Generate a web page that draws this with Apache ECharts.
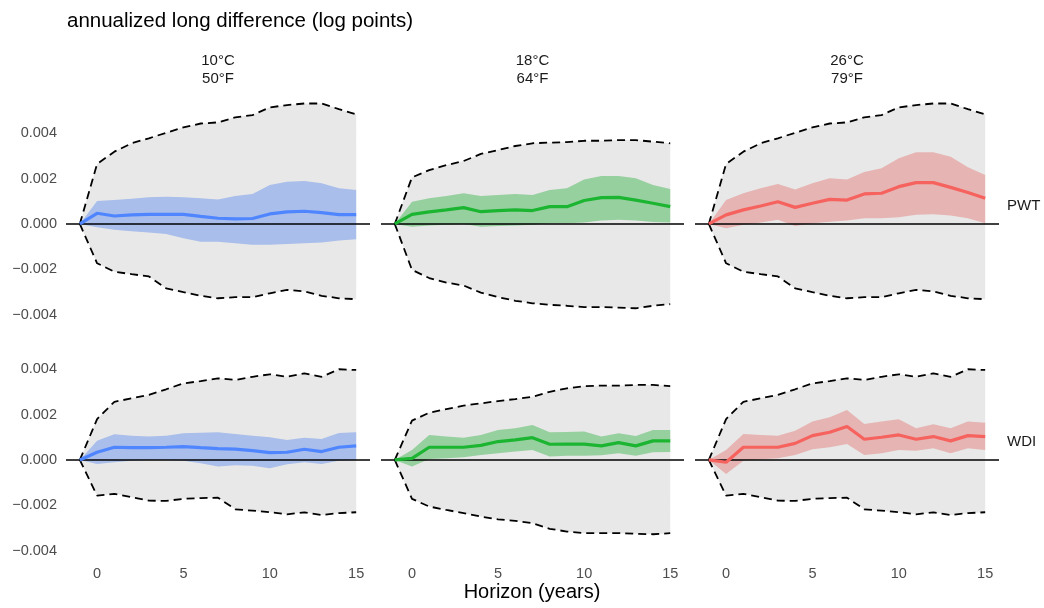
<!DOCTYPE html>
<html><head><meta charset="utf-8">
<script src="https://cdn.jsdelivr.net/npm/echarts@6/dist/echarts.min.js"></script>
<style>html,body{margin:0;padding:0;background:#fff}#c{width:1044px;height:608px}</style>
</head><body><div id="c"></div>
<script>
// ---------- data ----------
const horizons = [-1,0,1,2,3,4,5,6,7,8,9,10,11,12,13,14,15];
const xTicks = [0,5,10,15];
const yTicks = [-0.004,-0.002,0,0.002,0.004];
const tempLabels = ['10°C\n50°F','18°C\n64°F','26°C\n79°F'];
const sourceLabels = ['PWT','WDI'];
const titleText = 'annualized long difference (log points)';
const xTitle = 'Horizon (years)';

// PWT, 10°C
const pwt10_envHi = [0,0.00264,0.00318,0.00355,0.00377,0.00401,0.00425,0.00442,0.00447,0.00469,0.00479,0.00513,0.00523,0.00530,0.00530,0.00505,0.00482];
const pwt10_envLo = [0,-0.00173,-0.00210,-0.00221,-0.00231,-0.00283,-0.00300,-0.00316,-0.00327,-0.00322,-0.00322,-0.00305,-0.00290,-0.00297,-0.00316,-0.00327,-0.00331];
const pwt10_est   = [0,0.00047,0.00035,0.00040,0.00042,0.00042,0.00042,0.00033,0.00025,0.00022,0.00024,0.00044,0.00053,0.00056,0.00050,0.00041,0.00041];
const pwt10_hi    = [0,0.00101,0.00105,0.00111,0.00117,0.00120,0.00117,0.00113,0.00108,0.00123,0.00132,0.00171,0.00186,0.00189,0.00179,0.00157,0.00149];
const pwt10_lo    = [0,-0.00015,-0.00026,-0.00032,-0.00038,-0.00044,-0.00063,-0.00078,-0.00078,-0.00085,-0.00092,-0.00092,-0.00088,-0.00085,-0.00082,-0.00073,-0.00067];
// PWT, 18°C
const pwt18_envHi = [0,0.00205,0.00237,0.00259,0.00277,0.00308,0.00325,0.00343,0.00355,0.00358,0.00360,0.00366,0.00366,0.00369,0.00369,0.00362,0.00355];
const pwt18_envLo = [0,-0.00202,-0.00238,-0.00258,-0.00271,-0.00302,-0.00322,-0.00338,-0.00349,-0.00356,-0.00360,-0.00366,-0.00366,-0.00368,-0.00371,-0.00360,-0.00353];
const pwt18_est   = [0,0.00042,0.00053,0.00062,0.00072,0.00054,0.00059,0.00062,0.00059,0.00076,0.00076,0.00103,0.00116,0.00117,0.00105,0.00091,0.00076];
const pwt18_hi    = [0,0.00098,0.00113,0.00123,0.00135,0.00123,0.00127,0.00132,0.00127,0.00149,0.00157,0.00196,0.00211,0.00211,0.00201,0.00171,0.00154];
const pwt18_lo    = [0,-0.00012,-0.00007,-0.00004,0.00000,-0.00012,-0.00009,-0.00007,-0.00004,0.00003,0.00003,0.00006,0.00015,0.00018,0.00015,0.00009,0.00006];
// PWT, 26°C
const pwt26_envHi = [0,0.00264,0.00318,0.00355,0.00377,0.00401,0.00425,0.00442,0.00447,0.00469,0.00479,0.00513,0.00523,0.00530,0.00530,0.00505,0.00482];
const pwt26_envLo = [0,-0.00173,-0.00210,-0.00221,-0.00231,-0.00283,-0.00300,-0.00316,-0.00327,-0.00322,-0.00322,-0.00305,-0.00290,-0.00297,-0.00316,-0.00327,-0.00331];
const pwt26_est   = [0,0.00040,0.00062,0.00079,0.00098,0.00073,0.00091,0.00108,0.00105,0.00132,0.00135,0.00164,0.00182,0.00182,0.00161,0.00138,0.00113];
const pwt26_hi    = [0,0.00105,0.00135,0.00157,0.00176,0.00152,0.00179,0.00201,0.00196,0.00229,0.00245,0.00289,0.00316,0.00316,0.00296,0.00249,0.00215];
const pwt26_lo    = [0,-0.00019,-0.00004,0.00006,0.00018,-0.00009,0.00003,0.00010,0.00015,0.00025,0.00025,0.00029,0.00040,0.00043,0.00037,0.00025,0.00003];
// WDI, 10°C
const wdi10_envHi = [0,0.00180,0.00256,0.00271,0.00286,0.00311,0.00337,0.00347,0.00359,0.00352,0.00366,0.00377,0.00366,0.00381,0.00366,0.00399,0.00396];
const wdi10_envLo = [0,-0.00157,-0.00149,-0.00164,-0.00179,-0.00180,-0.00171,-0.00168,-0.00166,-0.00217,-0.00223,-0.00230,-0.00239,-0.00231,-0.00242,-0.00234,-0.00230];
const wdi10_est   = [0,0.00034,0.00056,0.00054,0.00054,0.00056,0.00059,0.00054,0.00050,0.00048,0.00041,0.00032,0.00034,0.00047,0.00037,0.00056,0.00062];
const wdi10_hi    = [0,0.00085,0.00113,0.00107,0.00103,0.00107,0.00117,0.00120,0.00122,0.00114,0.00107,0.00100,0.00088,0.00098,0.00092,0.00119,0.00122];
const wdi10_lo    = [0,-0.00018,-0.00010,-0.00004,0.00000,0.00000,-0.00004,-0.00015,-0.00029,-0.00023,-0.00026,-0.00037,-0.00019,-0.00010,-0.00018,-0.00004,0.00000];
// WDI, 18°C
const wdi18_envHi = [0,0.00173,0.00208,0.00224,0.00239,0.00249,0.00259,0.00268,0.00278,0.00300,0.00315,0.00325,0.00327,0.00327,0.00330,0.00330,0.00325];
const wdi18_envLo = [0,-0.00171,-0.00205,-0.00220,-0.00234,-0.00249,-0.00261,-0.00268,-0.00278,-0.00303,-0.00315,-0.00322,-0.00322,-0.00322,-0.00325,-0.00327,-0.00322];
const wdi18_est   = [0,0.00007,0.00056,0.00056,0.00056,0.00064,0.00081,0.00088,0.00098,0.00069,0.00070,0.00070,0.00062,0.00076,0.00062,0.00084,0.00084];
const wdi18_hi    = [0,0.00044,0.00110,0.00103,0.00098,0.00110,0.00132,0.00139,0.00154,0.00122,0.00123,0.00125,0.00103,0.00117,0.00105,0.00132,0.00132];
const wdi18_lo    = [0,-0.00029,0.00004,0.00007,0.00012,0.00022,0.00029,0.00037,0.00044,0.00015,0.00019,0.00019,0.00021,0.00029,0.00018,0.00034,0.00035];
// WDI, 26°C
const wdi26_envHi = [0,0.00180,0.00256,0.00271,0.00286,0.00311,0.00337,0.00347,0.00359,0.00352,0.00366,0.00377,0.00366,0.00381,0.00366,0.00399,0.00396];
const wdi26_envLo = [0,-0.00157,-0.00149,-0.00164,-0.00179,-0.00180,-0.00171,-0.00168,-0.00166,-0.00217,-0.00223,-0.00230,-0.00239,-0.00231,-0.00242,-0.00234,-0.00230];
const wdi26_est   = [0,-0.00010,0.00056,0.00056,0.00056,0.00073,0.00107,0.00122,0.00147,0.00091,0.00100,0.00110,0.00091,0.00103,0.00084,0.00107,0.00103];
const wdi26_hi    = [0,0.00044,0.00114,0.00110,0.00107,0.00129,0.00169,0.00188,0.00220,0.00158,0.00169,0.00179,0.00139,0.00157,0.00139,0.00169,0.00164];
const wdi26_lo    = [0,-0.00062,-0.00003,0.00003,0.00007,0.00022,0.00047,0.00056,0.00070,0.00022,0.00029,0.00044,0.00040,0.00051,0.00029,0.00051,0.00044];

// ---------- layout / style ----------
const FONT = '"Liberation Sans", Arial, Helvetica, sans-serif';
const colLeft = [66, 381, 695];
const colWidth = [304, 303, 304];
const rowTop = [91, 327];
const rowHeight = 225;
const lineColors = ['#4f86ff', '#1cb532', '#f6625e'];
const bandColors = ['rgba(106,148,238,0.5)', 'rgba(70,184,86,0.5)', 'rgba(228,128,126,0.5)'];
const envColor = 'rgba(217,217,217,0.6)';

const panels = [
  [pwt10_envHi,pwt10_envLo,pwt10_est,pwt10_hi,pwt10_lo],
  [pwt18_envHi,pwt18_envLo,pwt18_est,pwt18_hi,pwt18_lo],
  [pwt26_envHi,pwt26_envLo,pwt26_est,pwt26_hi,pwt26_lo],
  [wdi10_envHi,wdi10_envLo,wdi10_est,wdi10_hi,wdi10_lo],
  [wdi18_envHi,wdi18_envLo,wdi18_est,wdi18_hi,wdi18_lo],
  [wdi26_envHi,wdi26_envLo,wdi26_est,wdi26_hi,wdi26_lo]
];

const pairs = arr => horizons.map((h, k) => [h, arr[k]]);
function ribbon(lo, hi, color, gi) {
  return {
    type: 'custom', xAxisIndex: gi, yAxisIndex: gi, silent: true,
    data: [[0, 0]],
    renderItem: (params, api) => {
      const pts = [];
      for (let k = 0; k < horizons.length; k++) pts.push(api.coord([horizons[k], hi[k]]));
      for (let k = horizons.length - 1; k >= 0; k--) pts.push(api.coord([horizons[k], lo[k]]));
      return { type: 'polygon', shape: { points: pts }, style: { fill: color } };
    }
  };
}

const grid = [], xAxis = [], yAxis = [], series = [], graphic = [];
panels.forEach((p, gi) => {
  const row = Math.floor(gi / 3), col = gi % 3;
  grid.push({ left: colLeft[col], top: rowTop[row], width: colWidth[col], height: rowHeight, containLabel: false });
  xAxis.push({
    gridIndex: gi, type: 'value', min: -1.8, max: 15.8,
    axisLine: { show: false }, axisTick: { show: false }, splitLine: { show: false },
    axisLabel: { show: row === 1, customValues: xTicks, color: '#4d4d4d', fontSize: 14.5, fontFamily: FONT, margin: 14 }
  });
  yAxis.push({
    gridIndex: gi, type: 'value', min: -0.00405, max: 0.00585,
    axisLine: { show: false }, axisTick: { show: false }, splitLine: { show: false },
    axisLabel: { show: col === 0, customValues: yTicks, formatter: v => v.toFixed(3).replace('-', '\u2212'), color: '#4d4d4d', fontSize: 14.5, fontFamily: FONT, margin: 9 }
  });
  const [envHi, envLo, est, hi, lo] = p;
  series.push({
    type: 'line', xAxisIndex: gi, yAxisIndex: gi, silent: true, symbol: 'none',
    data: [[-1.8, 0], [15.8, 0]], lineStyle: { color: '#000', width: 1.6 }
  });
  series.push(ribbon(envLo, envHi, envColor, gi));
  series.push(ribbon(lo, hi, bandColors[col], gi));
  [envHi, envLo].forEach(arr => series.push({
    type: 'line', xAxisIndex: gi, yAxisIndex: gi, silent: true, symbol: 'none',
    data: pairs(arr), lineStyle: { color: '#000', width: 1.8, type: [8, 5] }
  }));
  series.push({
    type: 'line', xAxisIndex: gi, yAxisIndex: gi, silent: true, symbol: 'none',
    data: pairs(est), lineStyle: { color: lineColors[col], width: 3.2 }
  });
});

tempLabels.forEach((t, c) => graphic.push({
  type: 'text', x: colLeft[c] + colWidth[c] / 2, y: 52,
  style: { text: t, fill: '#1a1a1a', font: '15px ' + FONT, align: 'center', lineHeight: 18 }
}));
sourceLabels.forEach((s, r) => graphic.push({
  type: 'text', x: 1007, y: rowTop[r] + rowHeight / 2 + 2,
  style: { text: s, fill: '#1a1a1a', font: '15px ' + FONT, align: 'left', verticalAlign: 'middle' }
}));
graphic.push({ type: 'text', x: 67, y: 21, style: { text: titleText, fill: '#000', font: '20.5px ' + FONT, align: 'left', verticalAlign: 'middle' } });
graphic.push({ type: 'text', x: 532, y: 592, style: { text: xTitle, fill: '#000', font: '20px ' + FONT, align: 'center', verticalAlign: 'middle' } });

const chart = echarts.init(document.getElementById('c'), null, { renderer: 'canvas' });
chart.setOption({ animation: false, backgroundColor: '#fff', grid, xAxis, yAxis, series, graphic });
</script>
</body></html>
